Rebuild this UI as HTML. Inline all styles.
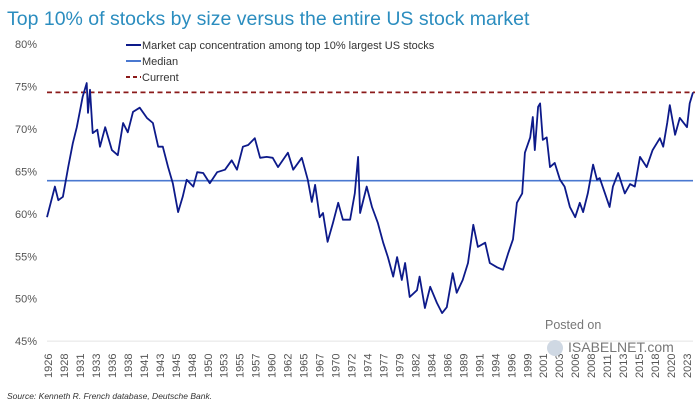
<!DOCTYPE html>
<html><head><meta charset="utf-8">
<style>
body{margin:0;background:#fff;width:700px;height:408px;overflow:hidden;font-family:"Liberation Sans",sans-serif;}
svg{display:block}
</style></head>
<body>
<svg id="chart" width="700" height="408" xmlns="http://www.w3.org/2000/svg">
<text x="7" y="25" font-size="19.5" fill="#2b8dbf" font-family="Liberation Sans, sans-serif">Top 10% of stocks by size versus the entire US stock market</text>
<g id="yaxis"></g>
<g id="xaxis"></g>
<g id="marks"></g>
<g font-size="11" fill="#333">
<line x1="126" y1="45" x2="141" y2="45" stroke="#0d1a8a" stroke-width="2"/>
<text x="142" y="49">Market cap concentration among top 10% largest US stocks</text>
<line x1="126" y1="61" x2="141" y2="61" stroke="#4a78d0" stroke-width="2"/>
<text x="142" y="65">Median</text>
<line x1="126" y1="77" x2="141" y2="77" stroke="#8b1a1a" stroke-width="2" stroke-dasharray="4,3"/>
<text x="142" y="81">Current</text>
</g>
<g fill="#777">
<text x="545" y="329" font-size="12.5">Posted on</text>
<circle cx="555" cy="348" r="8" fill="#cfd8e3"/>
<text x="568" y="352" font-size="14">ISABELNET.com</text>
</g>
<text x="7" y="399" font-size="8.5" font-style="italic" fill="#333">Source: Kenneth R. French database, Deutsche Bank.</text>
</svg>
<script>
const years=[1926.0,1927.2,1927.7,1928.4,1929.2,1929.9,1930.5,1931.0,1931.4,1932.0,1932.2,1932.5,1932.9,1933.6,1934.0,1934.8,1935.8,1936.7,1937.5,1938.2,1939.0,1940.0,1941.1,1942.0,1942.8,1943.5,1944.3,1945.0,1945.8,1946.5,1947.1,1948.1,1948.7,1949.6,1950.6,1951.7,1952.9,1953.9,1954.7,1955.6,1956.4,1957.4,1958.2,1959.2,1960.1,1960.9,1962.4,1963.2,1964.5,1965.4,1966.0,1966.5,1967.2,1967.7,1968.4,1969.2,1970.0,1970.7,1971.8,1972.5,1973.0,1973.3,1974.3,1975.1,1976.0,1976.8,1977.5,1978.3,1978.9,1979.6,1980.1,1980.8,1981.9,1982.3,1983.1,1983.9,1984.9,1985.7,1986.4,1987.3,1987.9,1988.8,1989.6,1990.4,1991.1,1992.2,1992.9,1994.0,1994.9,1995.7,1996.4,1997.0,1997.8,1998.2,1999.0,1999.4,1999.7,2000.2,2000.5,2000.9,2001.5,2002.0,2002.7,2003.5,2004.2,2005.0,2005.8,2006.5,2007.0,2007.7,2008.5,2009.1,2009.5,2010.3,2011.0,2011.5,2012.3,2013.3,2014.1,2014.8,2015.6,2016.6,2017.5,2018.6,2019.1,2019.7,2020.1,2020.9,2021.6,2022.7,2023.1,2023.6];
const values=[59.6,63.2,61.6,62.0,65.5,68.3,70.2,72.2,73.8,75.4,71.9,74.6,69.5,69.9,67.9,70.2,67.5,66.9,70.7,69.6,72.0,72.5,71.3,70.7,67.9,67.9,65.5,63.6,60.2,62.0,64.0,63.2,64.9,64.8,63.6,64.9,65.2,66.3,65.2,67.9,68.1,68.9,66.6,66.7,66.6,65.5,67.2,65.2,66.6,64.0,61.4,63.4,59.6,60.1,56.7,58.9,61.3,59.3,59.3,62.4,66.7,60.1,63.2,60.8,58.9,56.6,54.9,52.6,54.9,52.2,54.2,50.2,51.0,52.6,48.9,51.4,49.5,48.3,49.0,53.0,50.7,52.2,54.2,58.7,56.1,56.6,54.2,53.7,53.4,55.4,57.0,61.3,62.4,67.2,69.0,71.4,67.5,72.6,73.0,68.7,69.0,65.5,66.0,64.0,63.2,60.8,59.6,61.3,60.2,62.4,65.8,64.0,64.2,62.4,60.8,63.2,64.8,62.4,63.5,63.2,66.7,65.5,67.5,68.9,67.9,70.7,72.8,69.3,71.3,70.2,73.0,74.3];
const median=[63.9];
const current=[74.3];
const yTicks=[45,50,55,60,65,70,75,80];
const xTickLabels=["1926","1928","1931","1933","1936","1938","1941","1943","1945","1948","1950","1953","1955","1957","1960","1962","1965","1967","1970","1972","1974","1977","1979","1982","1984","1986","1989","1991","1994","1996","1999","2001","2003","2006","2008","2011","2013","2015","2018","2020","2023"];

const NS="http://www.w3.org/2000/svg";
const X0=47,X1=693,Y1926=1926,YEND=2023.6;
const xs=y=>X0+(y-Y1926)/(YEND-Y1926)*(X1-X0);
const ys=v=>44+(80-v)*8.49;
function mk(tag,attrs,parent){const e=document.createElementNS(NS,tag);for(const k in attrs)e.setAttribute(k,attrs[k]);parent.appendChild(e);return e;}

const ya=document.getElementById('yaxis');
yTicks.forEach(t=>{
  const tx=mk('text',{x:37,y:ys(t)+4,'text-anchor':'end','font-size':11,fill:'#555'},ya);
  
  
  tx.textContent=t+'%';
});
const baseline=mk('line',{x1:X0,y1:ys(45),x2:X1,y2:ys(45),stroke:'#e4e4e4','stroke-width':1},ya);



const xa=document.getElementById('xaxis');
const n=xTickLabels.length;
xTickLabels.forEach((l,i)=>{
  const cx=48+i*(687-48)/(n-1);
  const tx=mk('text',{transform:`translate(${cx+4},378) rotate(-90)`,'font-size':11,fill:'#555'},xa);
  
  
  tx.textContent=l;
});

const mg=document.getElementById('marks');
const ml=mk('line',{x1:X0,y1:ys(median[0]),x2:X1,y2:ys(median[0]),stroke:'#4a78d0','stroke-width':1.6},mg);


const cl=mk('line',{x1:X0,y1:ys(current[0]),x2:X1+2,y2:ys(current[0]),stroke:'#8b1a1a','stroke-width':1.8,'stroke-dasharray':'5,3.5'},mg);


let d='';
years.forEach((y,i)=>{d+=(i?'L':'M')+xs(y).toFixed(1)+','+ys(values[i]).toFixed(1);});
const p=mk('path',{d:d,fill:'none',stroke:'#0d1a8a','stroke-width':1.8,'stroke-linejoin':'round'},mg);


</script>
</body></html>
